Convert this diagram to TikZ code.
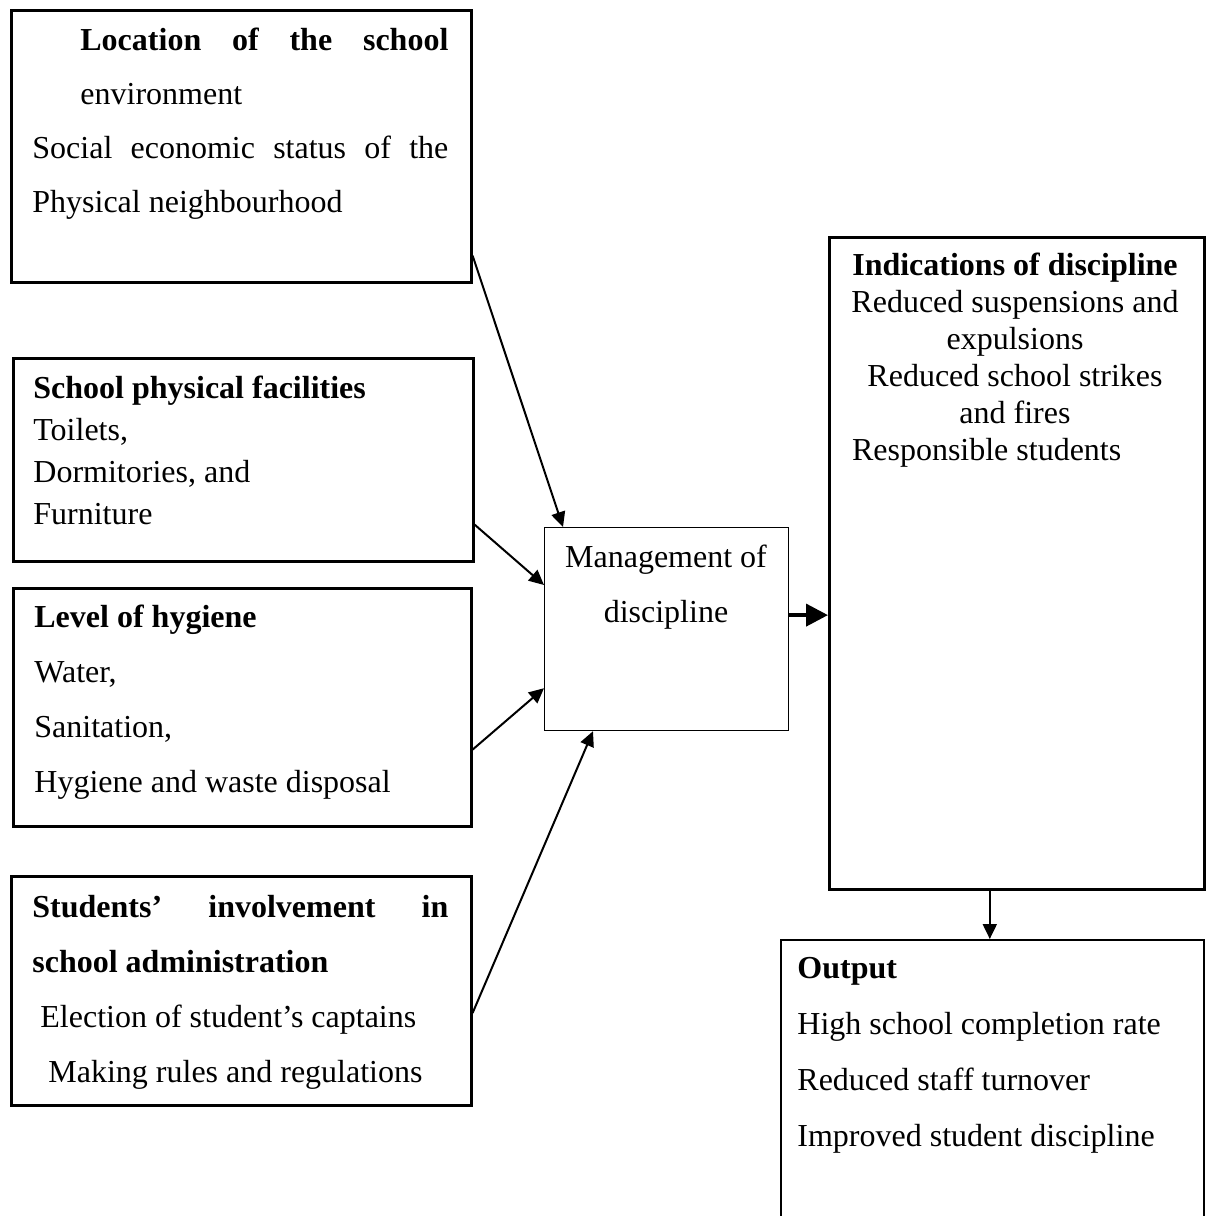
\documentclass[tikz,border=0pt]{standalone}
\usepackage{fontspec}
\setmainfont{Liberation Serif}
\usetikzlibrary{arrows.meta,calc}

\begin{document}
\begin{tikzpicture}[
  x=0.5pt, y=-0.5pt,
  box/.style={draw, anchor=north west, inner sep=0pt, line width=1.3pt},
  midbox/.style={draw, anchor=north west, inner sep=0pt, line width=0.6pt},
  txt/.style={anchor=north west, inner sep=0pt, align=left},
  ar/.style={-{Triangle[length=7.5pt,width=7pt]}, line width=1pt},
  thickar/.style={-{Triangle[length=11pt,width=11pt]}, line width=2pt},
]
\useasboundingbox (0,0) rectangle (1211,1216);

% ---------------- input boxes ----------------
\node[box, minimum width=230pt, minimum height=136pt] (loc) at (10,9) {};
\node[txt, font=\fontsize{16pt}{27pt}\selectfont] (locT) at (32,28)
  {\hspace*{24pt}\makebox[184pt][s]{\bfseries Location of the school}\\
   \hspace*{24pt}environment\\
   \makebox[208pt][s]{Social economic status of the}\\
   Physical neighbourhood};

\node[box, minimum width=230pt, minimum height=101.5pt] (fac) at (12,357) {};
\node[txt, font=\fontsize{16pt}{21pt}\selectfont] (facT) at (33,376)
  {\textbf{School physical facilities}\\
   Toilets,\\
   Dormitories, and\\
   Furniture};

\node[box, minimum width=229pt, minimum height=119pt] (hyg) at (12,587) {};
\node[txt, font=\fontsize{16pt}{27.5pt}\selectfont] (hygT) at (34,605)
  {\textbf{Level of hygiene}\\
   Water,\\
   Sanitation,\\
   Hygiene and waste disposal};

\node[box, minimum width=230pt, minimum height=114.5pt] (stu) at (10,875) {};
\node[txt, font=\fontsize{16pt}{27.5pt}\selectfont] (stuT) at (32,895)
  {\makebox[208pt][s]{\bfseries Students’ involvement in}\\
   \textbf{school administration}\\
   \hspace*{4pt}Election of student’s captains\\
   \hspace*{8pt}Making rules and regulations};

% ---------------- management ----------------
\node[midbox, minimum width=122pt, minimum height=101.5pt] (mgmt) at (544,527) {};
\node[txt, anchor=north, align=center, font=\fontsize{16pt}{27.5pt}\selectfont]
  (mgmtT) at (666,545) {Management of\\ discipline};

% ---------------- indications and output ----------------
\node[box, minimum width=187.5pt, minimum height=326pt] (ind) at (828,236) {};
\node[txt, anchor=north, align=center,
      font=\fontsize{16pt}{18.5pt}\selectfont] (indT) at (1015,253)
  {\textbf{Indications of discipline}\\
   Reduced suspensions and\\
   expulsions\\
   Reduced school strikes\\
   and fires\\
   \makebox[163pt][l]{Responsible students}};

\node[box, line width=1pt, minimum width=211.5pt, minimum height=150pt] (out) at (780,939) {};
\node[txt, font=\fontsize{16pt}{28pt}\selectfont] (outT) at (797,957)
  {\textbf{Output}\\
   High school completion rate\\
   Reduced staff turnover\\
   Improved student discipline};

% ---------------- arrows ----------------
\draw[ar] ([yshift=14pt]loc.south east) -- ([xshift=9.5pt]mgmt.north west);
\draw[ar] ([yshift=19pt]fac.south east) -- ([yshift=-29pt]mgmt.north west);
\draw[ar] ([yshift=39pt]hyg.south east) -- ([yshift=21.5pt]mgmt.south west);
\draw[ar] ([yshift=-69pt]stu.north east) -- ([xshift=24.5pt]mgmt.south west);

\draw[thickar] ([yshift=7pt]mgmt.east) -- ([yshift=7pt]mgmt.east -| ind.west);
\draw[ar] ([xshift=-13.5pt]ind.south) -- ([xshift=-13.5pt]ind.south |- out.north);

\end{tikzpicture}
\end{document}
